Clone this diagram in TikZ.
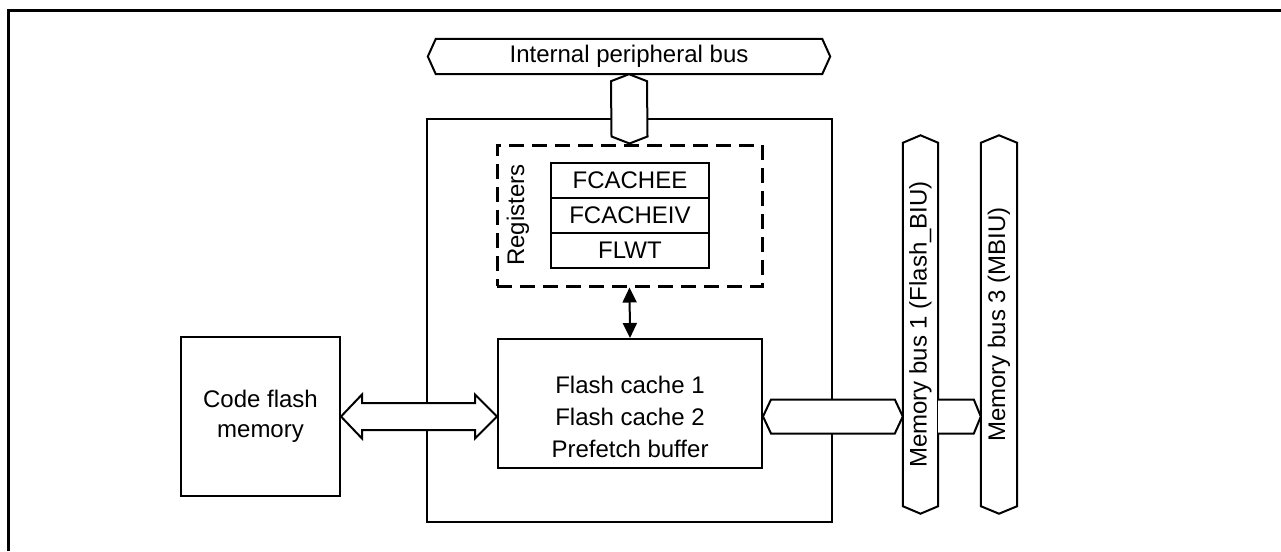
\documentclass[tikz,border=0pt]{standalone}
\usepackage{fontspec}
\setmainfont{Liberation Sans}
\usetikzlibrary{arrows.meta,calc}
\usetikzlibrary{positioning}

\begin{document}
\begin{tikzpicture}[
    x=1pt, y=-1pt,
    >={Triangle[length=15pt, width=14pt]},
    font=\fontsize{24}{30}\selectfont,
    blk/.style={draw=black, line width=2pt, fill=white, align=center, inner sep=0pt},
    regrow/.style={blk, outer sep=0pt, minimum width=158pt, minimum height=35pt},
    busline/.style={draw=black, line width=2pt, fill=white, line join=miter},
    vtext/.style={rotate=90, inner sep=0pt}
  ]
  \useasboundingbox (0,0) rectangle (1281,551);

  % ── outer frame ─────────────────────────────────────────────────
  \draw[line width=3pt] (8,551) -- (8,11) -- (1281,11);

  % ── module and blocks ───────────────────────────────────────────
  \node[blk, minimum width=405pt, minimum height=403pt] (module) at (629.5,320.5) {};
  \node[blk, minimum width=159pt, minimum height=159pt] (flash) at (260.5,416.5) {Code flash\\memory};
  \node[blk, minimum width=264pt, minimum height=129pt] (cache) at (630,403.5) {};
  \node[align=center, inner sep=0pt, font=\fontsize{24}{32}\selectfont] (cachetxt)
    at (cache |- flash.east) {Flash cache 1\\Flash cache 2\\Prefetch buffer};

  % ── registers ───────────────────────────────────────────────────
  \node[draw=black, line width=3pt, dash pattern=on 15pt off 8pt,
        minimum width=265pt, minimum height=141pt] (regs) at (629.5,215.5) {};
  \node[regrow] (cee) at (630,180.5) {FCACHEE};
  \node[regrow, below=0pt of cee] (civ) {FCACHEIV};
  \node[regrow, below=0pt of civ] (flwt) {FLWT};
  \node[vtext] (reglbl) at (518,215) {Registers};

  \draw[<->, line width=2pt] (regs.south) -- (cache.north);

  % ── internal peripheral bus ─────────────────────────────────────
  \node[minimum width=386pt, minimum height=35pt, inner sep=0pt] (ipb) at (629,56.5) {Internal peripheral bus};
  \draw[line width=2pt] (ipb.north west) -- (ipb.north east) -- ($(ipb.east)+(8,0)$)
    -- (ipb.south east) -- (ipb.south west) -- ($(ipb.west)+(-8,0)$) -- cycle;

  \draw[busline] (ipb.south) -- ++(18,7) -- ($(regs.north)+(18,-7)$) -- (regs.north)
    -- ($(regs.north)+(-18,-7)$) -- ($(ipb.south)+(-18,7)$) -- cycle;

  % ── memory buses ────────────────────────────────────────────────
  \node[minimum width=35pt, minimum height=363pt, inner sep=0pt] (mb1) at (920.5,324.5) {};
  \node[minimum width=36pt, minimum height=363pt, inner sep=0pt] (mb3) at (999,324.5) {};
  \node[vtext] (mb1txt) at (mb1) {Memory bus 1 (Flash\_BIU)};
  \node[vtext] (mb3txt) at (mb3) {Memory bus 3 (MBIU)};
  \foreach \b in {mb1,mb3}
    \draw[line width=2pt] (\b.north west) -- ($(\b.north)+(0,-7.5)$) -- (\b.north east)
      -- (\b.south east) -- ($(\b.south)+(0,7.5)$) -- (\b.south west) -- cycle;

  % ── connectors ──────────────────────────────────────────────────
  \coordinate (la) at (flash.east);
  \coordinate (ra) at (cache.west |- flash.east);
  \draw[busline] (la) -- ++(21,-22) -- ++(0,8.5) -- ($(ra)+(-22,-13.5)$) -- ++(0,-8.5)
    -- (ra) -- ++(-22,22) -- ++(0,-8.5) -- ($(la)+(21,13.5)$) -- ++(0,8.5) -- cycle;

  \coordinate (rc1) at (cache.east |- flash.east);
  \coordinate (rc2) at (mb1.west |- flash.east);
  \draw[busline] (rc1) -- ++(8,-17) -- ($(rc2)+(-8,-17)$) -- (rc2) -- ++(-8,17)
    -- ($(rc1)+(8,17)$) -- cycle;

  \coordinate (rc3) at (mb1.east |- flash.east);
  \coordinate (rc4) at (mb3.west |- flash.east);
  \draw[busline] ($(rc3)+(0,-17)$) -- ($(rc4)+(-7,-17)$) -- (rc4) -- ++(-7,17)
    -- ($(rc3)+(0,17)$);

\end{tikzpicture}
\end{document}
